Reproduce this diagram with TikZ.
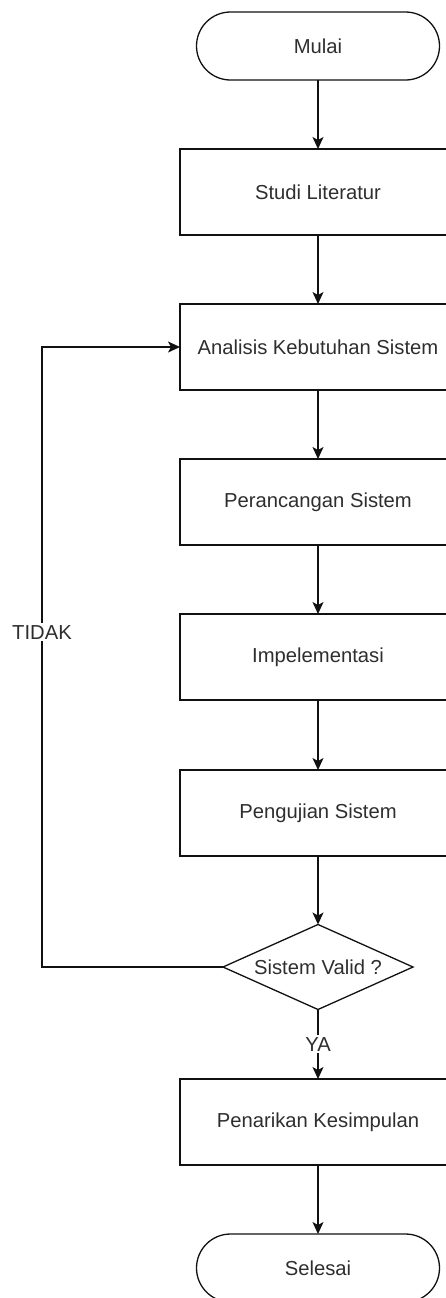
\documentclass[tikz,border=0pt]{standalone}
\usepackage{fontspec}
\setmainfont{Liberation Sans}
\usetikzlibrary{arrows.meta,shapes.geometric}
\definecolor{flowInk}{HTML}{111111}
\definecolor{flowText}{HTML}{2E2E2E}
\tikzset{
  flow diagram/.style={
    x=1bp, y=-1bp, line width=1.3bp, draw=flowInk,
    >={Stealth[length=12bp,width=11bp,inset=3bp]},
    every node/.style={font=\fontsize{20.3}{24}\selectfont,
      text=flowText, inner sep=0pt, outer sep=0pt}
  },
  flow box/.style={draw=flowInk, rectangle,
    minimum width=276bp, minimum height=86bp},
  flow term/.style={draw=flowInk, rectangle, rounded corners=34bp,
    minimum width=243bp, minimum height=68bp},
  flow decision/.style={draw=flowInk, diamond, shape aspect=2.24,
    minimum width=190bp, minimum height=85bp},
  flow label/.style={fill=white, inner sep=2bp}
}

\begin{document}
\begin{tikzpicture}[flow diagram]
    \useasboundingbox (0,0) rectangle (446,1298);
    \node[flow term] (mulai) at (318,46) {Mulai};
    \node[flow box] (studi) at (318,192) {Studi Literatur};
    \node[flow box] (analisis) at (318,347) {Analisis Kebutuhan Sistem};
    \node[flow box] (rancang) at (318,502) {Perancangan Sistem};
    \node[flow box] (implementasi) at (318,657) {Impelementasi};
    \node[flow box] (uji) at (318,813) {Pengujian Sistem};
    \node[flow decision] (valid) at (318,967) {Sistem Valid ?};
    \node[flow box] (simpulan) at (318,1122) {Penarikan Kesimpulan};
    \node[flow term] (selesai) at (318,1268) {Selesai};
    \coordinate (loop) at (42,967);
    % main flow
    \draw[->] (mulai) -- (studi);
    \draw[->] (studi) -- (analisis);
    \draw[->] (analisis) -- (rancang);
    \draw[->] (rancang) -- (implementasi);
    \draw[->] (implementasi) -- (uji);
    \draw[->] (uji) -- (valid);
    \draw[->] (valid) -- node[flow label] (ya) {YA} (simpulan);
    \draw[->] (simpulan) -- (selesai);
    % back to analysis
    \draw[->] (valid.west) -- (loop) |- node[flow label, pos=0.27] (tidak) {TIDAK} (analisis.west);
\end{tikzpicture}
\end{document}
